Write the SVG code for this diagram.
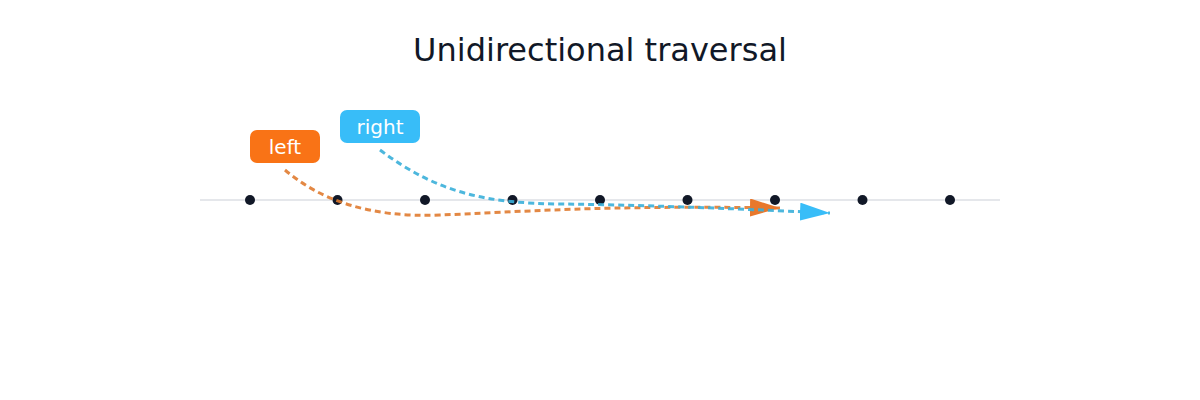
<svg xmlns="http://www.w3.org/2000/svg" width="1200" height="400" viewBox="0 0 1200 400">
<style>
.title{font-family:"DejaVu Sans",sans-serif;font-size:32px;fill:#111827;text-anchor:middle}
.lbl{font-family:"DejaVu Sans",sans-serif;font-size:20px;fill:#ffffff;text-anchor:middle}
.dot{fill:#111827}
.path{fill:none;stroke-width:3;stroke-dasharray:6 4}
</style>
<defs>
<marker id="ao" markerUnits="userSpaceOnUse" markerWidth="32" markerHeight="20" refX="30" refY="9" orient="auto"><polygon points="0,0 30,9 0,18" fill="#e8782c"/></marker>
<marker id="ab" markerUnits="userSpaceOnUse" markerWidth="32" markerHeight="20" refX="30" refY="9" orient="auto"><polygon points="0,0 30,9 0,18" fill="#38bdf8"/></marker>
</defs>
<rect width="1200" height="400" fill="#ffffff"/>
<text class="title" x="600" y="61">Unidirectional traversal</text>
<g id="axis"><line x1="200" y1="200" x2="1000" y2="200" stroke="#e5e7eb" stroke-width="2"/></g>
<g id="dots">
<circle class="dot" cx="250" cy="200" r="5"/>
<circle class="dot" cx="337.5" cy="200" r="5"/>
<circle class="dot" cx="425" cy="200" r="5"/>
<circle class="dot" cx="512.5" cy="200" r="5"/>
<circle class="dot" cx="600" cy="200" r="5"/>
<circle class="dot" cx="687.5" cy="200" r="5"/>
<circle class="dot" cx="775" cy="200" r="5"/>
<circle class="dot" cx="862.5" cy="200" r="5"/>
<circle class="dot" cx="950" cy="200" r="5"/>
</g>
<g id="connectors">
<path class="path" d="M285,170 C320,200 370,218 440,215 C520,212 600,205 780,208" stroke="#e07b30" stroke-opacity="0.9" marker-end="url(#ao)"/>
<path class="path" d="M380,150 C440,195 490,203 560,204 C640,205 720,208 830,213" stroke="#3aafd9" stroke-opacity="0.9" marker-end="url(#ab)"/>
</g>
<g id="left">
<rect x="250" y="130" width="70" height="33" rx="7" fill="#f97316"/>
<text class="lbl" x="285" y="154">left</text>
</g>
<g id="right">
<rect x="340" y="110" width="80" height="33" rx="7" fill="#38bdf8"/>
<text class="lbl" x="380" y="134">right</text>
</g>
</svg>
